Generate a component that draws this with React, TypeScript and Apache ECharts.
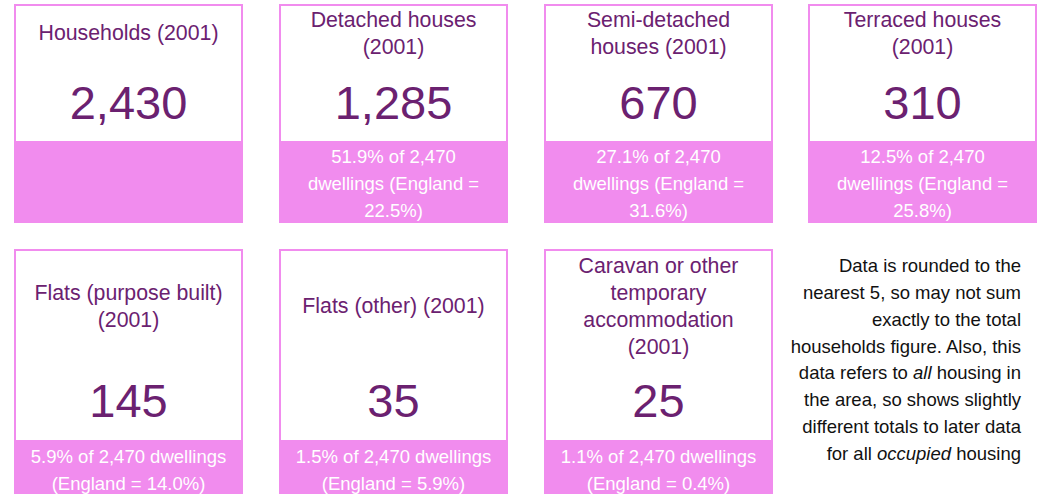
import React, { useEffect, useRef } from "react";
import * as echarts from "echarts";

const titles = [
  "Households (2001)",
  "Detached houses\n(2001)",
  "Semi-detached\nhouses (2001)",
  "Terraced houses\n(2001)",
  "Flats (purpose built)\n(2001)",
  "Flats (other) (2001)",
  "Caravan or other\ntemporary\naccommodation\n(2001)",
];
const values = ["2,430", "1,285", "670", "310", "145", "35", "25"];
const footers = [
  "",
  "51.9% of 2,470\ndwellings (England =\n22.5%)",
  "27.1% of 2,470\ndwellings (England =\n31.6%)",
  "12.5% of 2,470\ndwellings (England =\n25.8%)",
  "5.9% of 2,470 dwellings\n(England = 14.0%)",
  "1.5% of 2,470 dwellings\n(England = 5.9%)",
  "1.1% of 2,470 dwellings\n(England = 0.4%)",
];
const noteLines = [
  "Data is rounded to the",
  "nearest 5, so may not sum",
  "exactly to the total",
  "households figure. Also, this",
  "data refers to {i|all} housing in",
  "the area, so shows slightly",
  "different totals to later data",
  "for all {i|occupied} housing",
];

const PINK = "#f18cee";
const PURPLE = "#6b2170";
const FONT = "'Liberation Sans', Arial, sans-serif";

const colX = [14, 279, 544, 808];
const CARD_W = 229;
const rows = [
  { top: 4, whiteBottom: 141, bottom: 223, titleY: 33, valueY: 102, footY: 183 },
  { top: 249, whiteBottom: 440, bottom: 500, titleY: 306, valueY: 400, footY: 469.5 },
];

export default function App() {
  const ref = useRef<HTMLDivElement>(null);
  useEffect(() => {
    if (!ref.current) return;
    const chart = echarts.init(ref.current, undefined, { renderer: "svg" });
    const elements: any[] = [];
    titles.forEach((t, i) => {
      const r = rows[i < 4 ? 0 : 1];
      const x = colX[i % 4];
      const cx = x + CARD_W / 2;
      elements.push({
        type: "rect",
        shape: { x, y: r.whiteBottom, width: CARD_W, height: r.bottom - r.whiteBottom },
        style: { fill: PINK },
      });
      elements.push({
        type: "rect",
        shape: { x: x + 1, y: r.top + 1, width: CARD_W - 2, height: r.whiteBottom - r.top },
        style: { fill: "#ffffff", stroke: PINK, lineWidth: 2 },
      });
      elements.push({
        type: "text",
        x: cx,
        y: r.titleY,
        style: {
          text: t,
          fill: PURPLE,
          fontSize: 21.3,
          fontFamily: FONT,
          lineHeight: 27,
          align: "center",
          verticalAlign: "middle",
        },
      });
      elements.push({
        type: "text",
        x: cx,
        y: r.valueY,
        style: {
          text: values[i],
          fill: PURPLE,
          fontSize: 47,
          fontFamily: FONT,
          align: "center",
          verticalAlign: "middle",
        },
      });
      if (footers[i]) {
        elements.push({
          type: "text",
          x: cx,
          y: r.footY,
          style: {
            text: footers[i],
            fill: "#ffffff",
            fontSize: 18.5,
            fontFamily: FONT,
            lineHeight: 27,
            align: "center",
            verticalAlign: "middle",
          },
        });
      }
    });
    elements.push({
      type: "text",
      x: 1021,
      y: 359.5,
      style: {
        text: noteLines.join("\n"),
        fill: "#111111",
        fontSize: 18.5,
        fontFamily: FONT,
        lineHeight: 26.8,
        align: "right",
        verticalAlign: "middle",
        rich: {
          i: {
            fontStyle: "italic",
            fontSize: 18.5,
            fontFamily: FONT,
            fill: "#111111",
            lineHeight: 26.8,
          },
        },
      },
    });
    chart.setOption({
      animation: false,
      backgroundColor: "#ffffff",
      graphic: { elements },
    });
    return () => chart.dispose();
  }, []);
  return (
    <div
      ref={ref}
      style={{ position: "absolute", left: 0, top: 0, width: 1040, height: 494 }}
    />
  );
}
